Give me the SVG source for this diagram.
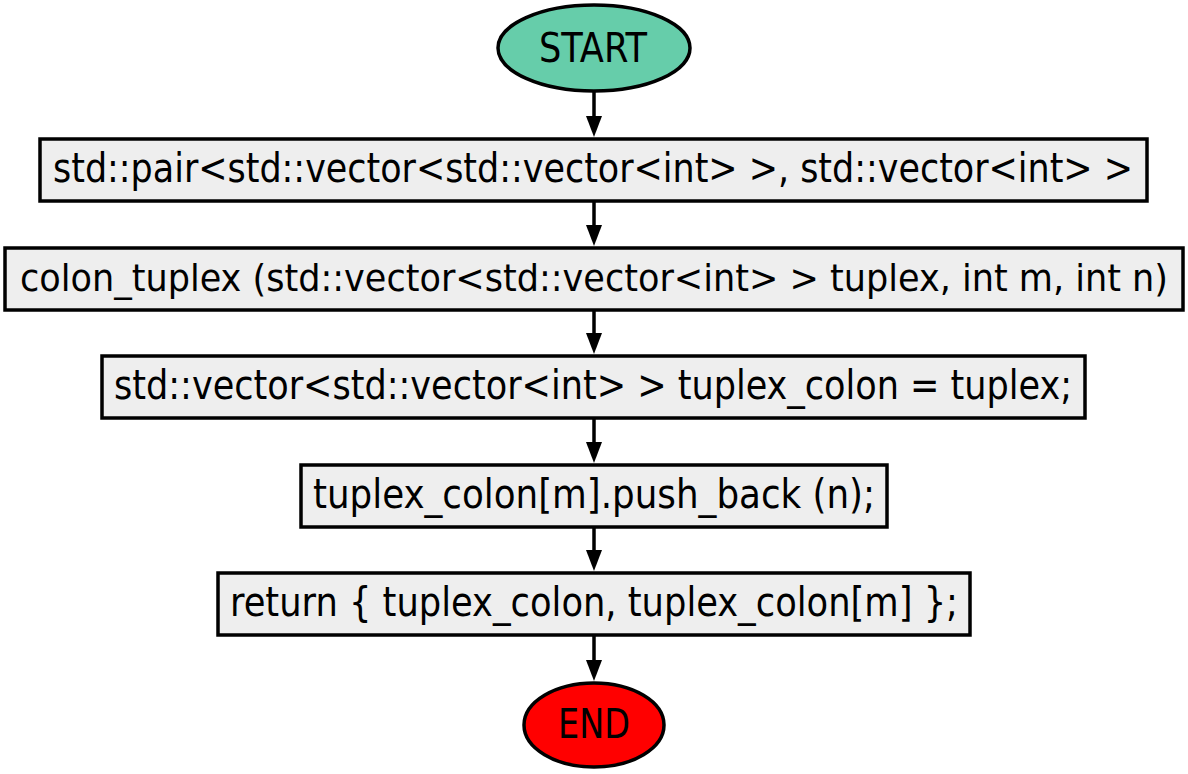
<svg xmlns="http://www.w3.org/2000/svg" width="1188" height="774" viewBox="0 0 1188 774">
  <style>
    .box { fill: #eeeeee; stroke: #000000; stroke-width: 3.5; }
    .start { fill: #66cdaa; stroke: #000000; stroke-width: 3.5; }
    .end { fill: #ff0000; stroke: #000000; stroke-width: 3.5; }
    .lbl { font-family: "DejaVu Sans Condensed", "DejaVu Sans", sans-serif; font-size: 40px; fill: #000000; text-anchor: middle; }
    .edge { stroke: #000000; stroke-width: 3.5; fill: none; }
  </style>
  <defs>
    <marker id="arrow" markerUnits="userSpaceOnUse" markerWidth="21" markerHeight="16" refX="0" refY="8" orient="auto">
      <path d="M0,0 L21,8 L0,16 Z" fill="#000000"/>
    </marker>
  </defs>
  <rect width="1188" height="774" fill="#ffffff"/>

  <g id="connectors">
    <line class="edge" x1="594" y1="92" x2="594" y2="116" marker-end="url(#arrow)"/>
    <line class="edge" x1="594" y1="201" x2="594" y2="225" marker-end="url(#arrow)"/>
    <line class="edge" x1="594" y1="310" x2="594" y2="333" marker-end="url(#arrow)"/>
    <line class="edge" x1="594" y1="418" x2="594" y2="442" marker-end="url(#arrow)"/>
    <line class="edge" x1="594" y1="527" x2="594" y2="550" marker-end="url(#arrow)"/>
    <line class="edge" x1="594" y1="635" x2="594" y2="660" marker-end="url(#arrow)"/>
  </g>

  <g id="start">
    <ellipse class="start" cx="594" cy="48" rx="96" ry="43"/>
    <text class="lbl" x="593" y="62" textLength="108" lengthAdjust="spacingAndGlyphs">START</text>
  </g>

  <g id="node1">
    <rect class="box" x="40" y="139" width="1107" height="62"/>
    <text class="lbl" x="593" y="182" textLength="1080" lengthAdjust="spacingAndGlyphs">std::pair&lt;std::vector&lt;std::vector&lt;int&gt; &gt;, std::vector&lt;int&gt; &gt;</text>
  </g>

  <g id="node2">
    <rect class="box" x="5" y="248" width="1178" height="62"/>
    <text class="lbl" x="594" y="291" style="font-size:38px" textLength="1148" lengthAdjust="spacingAndGlyphs">colon_tuplex (std::vector&lt;std::vector&lt;int&gt; &gt; tuplex, int m, int n)</text>
  </g>

  <g id="node3">
    <rect class="box" x="102" y="356" width="983" height="62"/>
    <text class="lbl" x="593" y="399" textLength="958" lengthAdjust="spacingAndGlyphs">std::vector&lt;std::vector&lt;int&gt; &gt; tuplex_colon = tuplex;</text>
  </g>

  <g id="node4">
    <rect class="box" x="301" y="465" width="586" height="62"/>
    <text class="lbl" x="594" y="508" textLength="562" lengthAdjust="spacingAndGlyphs">tuplex_colon[m].push_back (n);</text>
  </g>

  <g id="node5">
    <rect class="box" x="218" y="573" width="752" height="62"/>
    <text class="lbl" x="594" y="616" textLength="728" lengthAdjust="spacingAndGlyphs">return { tuplex_colon, tuplex_colon[m] };</text>
  </g>

  <g id="end">
    <ellipse class="end" cx="594" cy="725" rx="70" ry="42"/>
    <text class="lbl" x="594" y="738" textLength="72" lengthAdjust="spacingAndGlyphs">END</text>
  </g>
</svg>
